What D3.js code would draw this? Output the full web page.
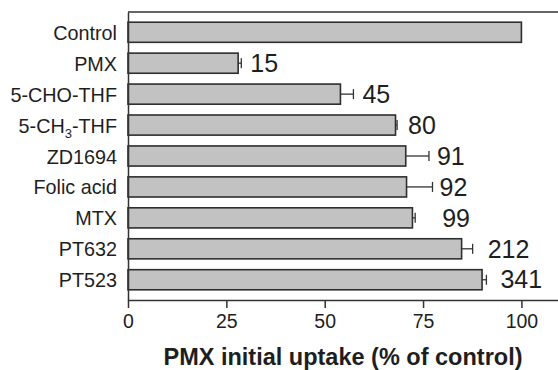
<!DOCTYPE html>
<html>
<head>
<meta charset="utf-8">
<script src="https://cdn.jsdelivr.net/npm/d3@7"></script>
<style>
  body { margin: 0; background: #fff; }
  text { font-family: "Liberation Sans", Arial, sans-serif; fill: #1e1e1e; }
</style>
</head>
<body>
<div id="chart"></div>
<script>
    // data
    const categories = ["Control", "PMX", "5-CHO-THF", "5-CH3-THF", "ZD1694", "Folic acid", "MTX", "PT632", "PT523"];
    const uptake = [100, 28, 54, 68, 70.6, 70.8, 72.3, 84.8, 90];
    const errPlus = [0, 0.8, 3.3, 0.4, 5.9, 6.6, 0.7, 2.8, 1.1];
    const valueLabels = ["", "15", "45", "80", "91", "92", "99", "212", "341"];
    const xTicks = [0, 25, 50, 75, 100];

    // gap between error cap and value label (px)
    const labelPad = [0, 9, 9, 11, 8, 7, 27, 15, 14];

    const width = 558, height = 370;
    const plotLeft = 128, plotRight = 558, plotTop = 12, plotBottom = 300;

    const svg = d3.select("#chart")
        .append("svg")
        .attr("width", width)
        .attr("height", height);

    const x = d3.scaleLinear()
        .domain([0, 109.3])
        .range([plotLeft, plotRight]);

    const y = d3.scaleBand()
        .domain(categories)
        .range([plotTop, plotBottom])
        .paddingInner(0.35)
        .paddingOuter(0.33);

    // top frame line
    svg.append("line")
        .attr("x1", plotLeft).attr("x2", plotRight)
        .attr("y1", plotTop).attr("y2", plotTop)
        .attr("stroke", "#333").attr("stroke-width", 1.5);

    // bars
    svg.selectAll("rect.bar")
        .data(categories)
        .join("rect")
        .attr("class", "bar")
        .attr("x", x(0))
        .attr("y", d => y(d))
        .attr("width", (d, i) => x(uptake[i]) - x(0))
        .attr("height", y.bandwidth())
        .attr("fill", "#c2c2c2")
        .attr("stroke", "#2e2e2e")
        .attr("stroke-width", 1.6);

    // error bars (plus side only)
    const errEnd = i => x(uptake[i] + errPlus[i]);
    const eb = svg.selectAll("g.err")
        .data(categories.filter((d, i) => errPlus[i] > 0))
        .join("g")
        .attr("class", "err");
    eb.append("line")
        .attr("x1", d => x(uptake[categories.indexOf(d)]))
        .attr("x2", d => errEnd(categories.indexOf(d)))
        .attr("y1", d => y(d) + y.bandwidth() / 2)
        .attr("y2", d => y(d) + y.bandwidth() / 2)
        .attr("stroke", "#333").attr("stroke-width", 1.3);
    eb.append("line")
        .attr("x1", d => errEnd(categories.indexOf(d)))
        .attr("x2", d => errEnd(categories.indexOf(d)))
        .attr("y1", d => y(d) + y.bandwidth() / 2 - 5)
        .attr("y2", d => y(d) + y.bandwidth() / 2 + 5)
        .attr("stroke", "#333").attr("stroke-width", 1.3);

    // value labels
    svg.selectAll("text.val")
        .data(categories)
        .join("text")
        .attr("class", "val")
        .attr("x", (d, i) => errEnd(i) + labelPad[i])
        .attr("y", d => y(d) + y.bandwidth() / 2)
        .attr("dy", "0.35em")
        .style("font-size", "25px")
        .text((d, i) => valueLabels[i]);

    // left axis
    const yAxis = svg.append("g")
        .attr("transform", "translate(" + plotLeft + ",0)")
        .call(d3.axisLeft(y).tickSize(0).tickPadding(11));
    yAxis.select(".domain").attr("stroke", "#333").attr("stroke-width", 1.5);
    yAxis.selectAll(".tick text")
        .style("font-size", "19.8px")
        .attr("dy", "0.38em")
        .attr("fill", "#1e1e1e");
    yAxis.selectAll(".tick text")
        .filter(d => d === "5-CH3-THF")
        .text(null)
        .call(t => {
            t.append("tspan").text("5-CH");
            t.append("tspan").text("3").style("font-size", "13px").attr("dy", "5");
            t.append("tspan").text("-THF").attr("dy", "-5");
        });

    // bottom axis
    const xAxis = svg.append("g")
        .attr("transform", "translate(0," + plotBottom + ")")
        .call(d3.axisBottom(x).tickValues(xTicks).tickSize(8).tickSizeOuter(0).tickPadding(6));
    xAxis.select(".domain").attr("stroke", "#333").attr("stroke-width", 1.5);
    xAxis.selectAll(".tick line").attr("stroke", "#333").attr("stroke-width", 1.5);
    xAxis.selectAll(".tick text")
        .style("font-size", "19.5px")
        .attr("fill", "#1e1e1e");

    // axis title
    svg.append("text")
        .attr("x", (plotLeft + plotRight) / 2)
        .attr("y", 365)
        .attr("text-anchor", "middle")
        .style("font-size", "23.5px")
        .style("font-weight", "bold")
        .text("PMX initial uptake (% of control)");
</script>
</body>
</html>
